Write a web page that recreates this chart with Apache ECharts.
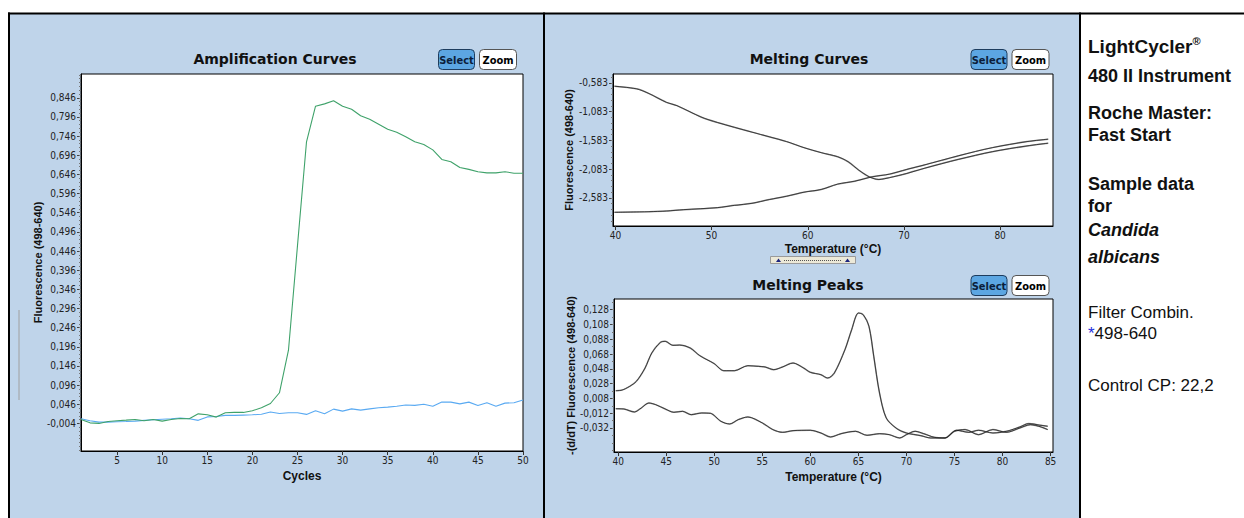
<!DOCTYPE html>
<html><head><meta charset="utf-8">
<script src="https://cdn.jsdelivr.net/npm/echarts@6/dist/echarts.min.js"></script>
<style>html,body{margin:0;padding:0;background:#fff;}#c{width:1244px;height:518px;}</style>
</head><body><div id="c"></div>
<script>
// ---------- data ----------
const cycles = [1,2,3,4,5,6,7,8,9,10,11,12,13,14,15,16,17,18,19,20,21,22,23,24,25,26,27,28,29,30,31,32,33,34,35,36,37,38,39,40,41,42,43,44,45,46,47,48,49,50];
const ampGreen = [0.0064,-0.0025,-0.004,0.001,0.003,0.0046,0.0064,0.003,0.0064,0.002,0.0064,0.009,0.008,0.021,0.0185,0.0125,0.0237,0.0247,0.0247,0.029,0.037,0.048,0.076,0.187,0.46,0.731,0.824,0.830,0.838,0.824,0.816,0.799,0.790,0.777,0.764,0.756,0.744,0.731,0.724,0.710,0.685,0.679,0.664,0.659,0.653,0.650,0.650,0.653,0.649,0.649];
const ampBlue = [0.008,0.003,-0.0006,-0.0006,0.0002,0.001,0.002,0.004,0.0055,0.007,0.008,0.010,0.008,0.004,0.013,0.014,0.017,0.017,0.0177,0.0185,0.020,0.026,0.022,0.0237,0.0237,0.0195,0.029,0.021,0.0333,0.028,0.034,0.0307,0.034,0.037,0.0386,0.041,0.044,0.043,0.046,0.041,0.0516,0.0516,0.047,0.0516,0.043,0.050,0.041,0.049,0.050,0.057];
const ampYTicks = [-0.004,0.046,0.096,0.146,0.196,0.246,0.296,0.346,0.396,0.446,0.496,0.546,0.596,0.646,0.696,0.746,0.796,0.846];
const ampXTicks = [5,10,15,20,25,30,35,40,45,50];

const meltTempsA = [39.9,42.2,43.5,45.3,46.4,48.9,50.6,54.2,57.8,59.6,61.4,63.1,64.2,65.3,66.4,67.4,68.5,70.3,72.1,75.7,79.2,82.8,85.0];
const meltCurveA = [-0.642,-0.688,-0.77,-0.922,-0.98,-1.177,-1.272,-1.44,-1.604,-1.709,-1.796,-1.866,-1.954,-2.099,-2.216,-2.262,-2.23,-2.157,-2.069,-1.912,-1.779,-1.679,-1.632];
const meltTempsB = [39.9,43.5,45.3,47.1,50.6,52.4,54.2,56,57.8,59.6,61.4,63.1,64.9,66.7,68.5,70.3,72.1,75.7,79.2,82.8,85];
const meltCurveB = [-2.833,-2.821,-2.81,-2.786,-2.751,-2.711,-2.676,-2.611,-2.553,-2.483,-2.436,-2.343,-2.291,-2.216,-2.169,-2.087,-2.011,-1.849,-1.709,-1.604,-1.562];
const meltYTicks = [-2.583,-2.083,-1.583,-1.083,-0.583];
const meltXTicks = [40,50,60,70,80];

const peakTempsA = [39.75,40.3,41.2,41.9,42.8,43.5,44.4,44.9,45.7,46.4,47.5,48.5,50,51,52.1,53.5,54.6,55.3,56.2,57.1,58.2,59.3,60,61.1,61.8,62.5,63.6,64.3,65,65.5,66.1,66.6,67.2,67.9,69,70,71.5,72.5,74,75,76.1,77.5,79,80.4,81.8,82.9,84,84.7];
const peakCurveA = [0.0185,0.0189,0.0243,0.0311,0.0491,0.0694,0.0838,0.0852,0.0798,0.0802,0.0762,0.0658,0.055,0.0455,0.0455,0.0523,0.0514,0.0505,0.0469,0.0505,0.0559,0.0491,0.0433,0.0401,0.0356,0.0424,0.0739,0.101,0.1235,0.1212,0.1055,0.0649,0.0153,-0.0185,-0.0329,-0.0388,-0.0424,-0.0455,-0.0455,-0.0365,-0.0342,-0.041,-0.0342,-0.0379,-0.032,-0.0275,-0.0306,-0.0342];
const peakTempsB = [39.75,40.6,41.7,42.4,43.2,43.9,44.9,45.8,46.7,47.6,48.7,49.6,50.7,51.6,52.5,53.5,55,56.1,57.1,58.2,60,61.1,62.1,63.2,64.7,65.9,67.2,68.2,69.3,70,70.9,71.8,72.9,74,75.2,76.5,77.5,79,80.4,81.8,82.7,84,84.7];
const peakCurveB = [-0.0059,-0.0063,-0.0104,-0.005,0.0018,-0.0004,-0.0063,-0.0108,-0.0095,-0.014,-0.0117,-0.0122,-0.023,-0.0266,-0.0207,-0.0171,-0.0252,-0.0342,-0.0379,-0.0356,-0.0351,-0.0388,-0.0442,-0.0397,-0.0365,-0.0419,-0.0397,-0.041,-0.0455,-0.041,-0.0365,-0.0397,-0.0446,-0.0455,-0.0351,-0.0379,-0.0351,-0.0388,-0.0365,-0.0306,-0.0261,-0.0284,-0.0297];
const peakYTicks = [-0.032,-0.012,0.008,0.028,0.048,0.068,0.088,0.108,0.128];
const peakXTicks = [40,45,50,55,60,65,70,75,80,85];

// ---------- helpers ----------
const pair = (xs, ys) => xs.map((x, i) => [x, ys[i]]);
function minorTicks(majors, step, min, max) {
  const out = [];
  const base = majors[0];
  for (let k = -200; k <= 200; k++) {
    const v = +(base + k * step).toFixed(5);
    if (v > min && v < max) out.push(v);
  }
  return out;
}
const FONT = "'DejaVu Sans Condensed','Liberation Sans Narrow',sans-serif";
const fmt = v => (+v).toFixed(3).replace('.', ',');
const labelStyle = { fontFamily: FONT, fontSize: 10, color: '#222' };
const nameStyle = { fontFamily: "'Liberation Sans',Arial,sans-serif", fontWeight: 'bold', color: '#111' };

const AMP = { min: -0.076, max: 0.908, xmin: 1, xmax: 50 };
const MELT = { min: -3.07, max: -0.43, xmin: 39.75, xmax: 85.5 };
const PEAK = { min: -0.0645, max: 0.1425, xmin: 39.57, xmax: 85.25 };

function xAxisDef(grid, r, ticks, name, gap) {
  return {
    type: 'value', gridIndex: grid, min: r.xmin, max: r.xmax,
    name: name, nameLocation: 'middle', nameGap: gap,
    nameTextStyle: Object.assign({ fontSize: 12 }, nameStyle),
    axisLine: { show: true, onZero: false, lineStyle: { color: '#000', width: 1 } },
    axisTick: { show: true, length: 4, lineStyle: { color: '#333' }, customValues: ticks },
    axisLabel: Object.assign({ margin: 4, customValues: ticks, formatter: v => String(v), showMinLabel: true, showMaxLabel: true }, labelStyle),
    splitLine: { show: false }
  };
}
function yAxisDef(grid, r, ticks, name, gap) {
  return {
    type: 'value', gridIndex: grid, min: r.min, max: r.max,
    name: name, nameLocation: 'middle', nameGap: gap, nameRotate: 90,
    nameTextStyle: Object.assign({ fontSize: 11 }, nameStyle),
    axisLine: { show: true, onZero: false, lineStyle: { color: '#000', width: 1 } },
    axisTick: { show: true, length: 4, lineStyle: { color: '#444' }, customValues: ticks },
    axisLabel: Object.assign({ margin: 5, customValues: ticks, formatter: fmt }, labelStyle),
    splitLine: { show: false }
  };
}
function yMinorDef(grid, r, ticks) {
  return {
    type: 'value', gridIndex: grid, min: r.min, max: r.max, position: 'left',
    axisLine: { show: false, onZero: false },
    axisTick: { show: true, length: 2, lineStyle: { color: '#777' }, customValues: ticks },
    axisLabel: { show: false },
    splitLine: { show: false }
  };
}

// ---------- decoration ----------
const PANEL = '#bfd4ea';
function button(x, y, w, h, label, fill, stroke, txt) {
  return {
    type: 'group', x: x, y: y, children: [
      { type: 'rect', shape: { x: 0, y: 0, width: w, height: h, r: 4 }, style: { fill: fill, stroke: stroke, lineWidth: 1 } },
      { type: 'text', x: w / 2, y: h / 2 + 0.5, style: { text: label, fill: txt, font: "bold 11px " + FONT, textAlign: 'center', textVerticalAlign: 'middle' } }
    ]
  };
}
function selZoom(x, y) {
  return [
    button(x, y, 36, 20, 'Select', '#5ca6e2', '#1d3c5e', '#0b1e3a'),
    button(x + 41, y, 37, 20, 'Zoom', '#ffffff', '#555555', '#000')
  ];
}
const titleFont = "bold 14px 'DejaVu Sans',sans-serif";
const rtBold = "bold 18px 'Liberation Sans',Arial,sans-serif";
const rtBoldIt = "italic bold 18px 'Liberation Sans',Arial,sans-serif";
const rtReg = "17px 'Liberation Sans',Arial,sans-serif";
const rtX = 1088;
function rt(y, text, font, extra) {
  return { type: 'text', x: rtX, y: y, style: Object.assign({ text: text, font: font, fill: '#111', textVerticalAlign: 'middle' }, extra || {}) };
}

const graphics = [
  { type: 'rect', z: -10, shape: { x: 9, y: 14, width: 534, height: 504 }, style: { fill: PANEL } },
  { type: 'rect', z: -10, shape: { x: 545, y: 14, width: 534, height: 504 }, style: { fill: PANEL } },
  { type: 'rect', z: -5, shape: { x: 8, y: 12.5, width: 1236, height: 2 }, style: { fill: '#000' } },
  { type: 'rect', z: -5, shape: { x: 8, y: 12.5, width: 2, height: 506 }, style: { fill: '#000' } },
  { type: 'rect', z: -5, shape: { x: 543, y: 12.5, width: 2, height: 506 }, style: { fill: '#000' } },
  { type: 'rect', z: -5, shape: { x: 1079, y: 12.5, width: 2, height: 506 }, style: { fill: '#000' } },
  { type: 'line', shape: { x1: 19, y1: 310, x2: 19, y2: 400 }, style: { stroke: '#a0a0a0', lineWidth: 1 } },
  { type: 'text', x: 275, y: 58.5, style: { text: 'Amplification Curves', font: titleFont, fill: '#111', textAlign: 'center', textVerticalAlign: 'middle' } },
  { type: 'text', x: 809, y: 58.5, style: { text: 'Melting Curves', font: titleFont, fill: '#111', textAlign: 'center', textVerticalAlign: 'middle' } },
  { type: 'text', x: 808, y: 285, style: { text: 'Melting Peaks', font: titleFont, fill: '#111', textAlign: 'center', textVerticalAlign: 'middle' } },
  ...selZoom(438.5, 49.5),
  ...selZoom(971, 49.5),
  ...selZoom(971, 275.5),
  // little scroller under the melting curves
  { type: 'rect', shape: { x: 770.5, y: 256.5, width: 85, height: 7 }, style: { fill: '#ece9d8', stroke: '#9a9a9a', lineWidth: 1 } },
  { type: 'polygon', shape: { points: [[776, 262], [778.5, 258.5], [781, 262]] }, style: { fill: '#1a237e' } },
  { type: 'polygon', shape: { points: [[845, 262], [847.5, 258.5], [850, 262]] }, style: { fill: '#1a237e' } },
  { type: 'line', shape: { x1: 784, y1: 260.5, x2: 842, y2: 260.5 }, style: { stroke: '#555', lineWidth: 1, lineDash: [1, 1] } },
  // right-hand notes
  { type: 'text', x: rtX, y: 46, style: { text: 'LightCycler{sup|®}', font: "bold 19px 'Liberation Sans',Arial,sans-serif", fill: '#111', textVerticalAlign: 'middle',
      rich: { sup: { font: "bold 11px 'Liberation Sans',Arial,sans-serif", fill: '#111', verticalAlign: 'top', padding: [0, 0, 10, 0] } } } },
  rt(76, '480 II Instrument', rtBold),
  rt(113, 'Roche Master:', rtBold),
  rt(135, 'Fast Start', rtBold),
  rt(184, 'Sample data', rtBold),
  rt(206, 'for', rtBold),
  rt(230, 'Candida', rtBoldIt),
  rt(257, 'albicans', rtBoldIt),
  rt(312, 'Filter Combin.', rtReg),
  { type: 'text', x: rtX, y: 333, style: { text: '{ast|*}498-640', font: rtReg, fill: '#111', textVerticalAlign: 'middle',
      rich: { ast: { font: rtReg, fill: '#1f2fe0' } } } },
  rt(385, 'Control CP: 22,2', rtReg)
];

// ---------- chart ----------
const chart = echarts.init(document.getElementById('c'), null, { renderer: 'svg', width: 1244, height: 518 });
const lineBase = { type: 'line', showSymbol: false, symbol: 'none', animation: false, silent: true };

chart.setOption({
  animation: false,
  backgroundColor: '#ffffff',
  grid: [
    { left: 81, top: 74, width: 442, height: 377, show: true, backgroundColor: '#fff', borderColor: '#000', borderWidth: 1 },
    { left: 613, top: 74, width: 440, height: 152, show: true, backgroundColor: '#fff', borderColor: '#000', borderWidth: 1 },
    { left: 614, top: 299, width: 439, height: 153, show: true, backgroundColor: '#fff', borderColor: '#000', borderWidth: 1 }
  ],
  xAxis: [
    xAxisDef(0, AMP, ampXTicks, 'Cycles', 19),
    xAxisDef(1, MELT, meltXTicks, 'Temperature (°C)', 17),
    xAxisDef(2, PEAK, peakXTicks, 'Temperature (°C)', 19)
  ],
  yAxis: [
    yAxisDef(0, AMP, ampYTicks, 'Fluorescence (498-640)', 38),
    yMinorDef(0, AMP, minorTicks(ampYTicks, 0.01, AMP.min, AMP.max)),
    yAxisDef(1, MELT, meltYTicks, 'Fluorescence (498-640)', 39),
    yMinorDef(1, MELT, minorTicks(meltYTicks, 0.1, MELT.min, MELT.max)),
    yAxisDef(2, PEAK, peakYTicks, '-(d/dT) Fluorescence (498-640)', 33),
    yMinorDef(2, PEAK, minorTicks(peakYTicks, 0.01, PEAK.min, PEAK.max))
  ],
  series: [
    Object.assign({}, lineBase, { name: 'Blue sample', xAxisIndex: 0, yAxisIndex: 0, data: pair(cycles, ampBlue), lineStyle: { color: '#5aaaf2', width: 1.1 } }),
    Object.assign({}, lineBase, { name: 'Green sample', xAxisIndex: 0, yAxisIndex: 0, data: pair(cycles, ampGreen), lineStyle: { color: '#3fa26a', width: 1.1 } }),
    Object.assign({}, lineBase, { name: 'Melt A shadow', xAxisIndex: 1, yAxisIndex: 2, smooth: 0.3, data: pair(meltTempsA, meltCurveA), lineStyle: { color: '#9a9a9a', width: 1.5 } }),
    Object.assign({}, lineBase, { name: 'Melt B shadow', xAxisIndex: 1, yAxisIndex: 2, smooth: 0.3, data: pair(meltTempsB, meltCurveB), lineStyle: { color: '#9a9a9a', width: 1.5 } }),
    Object.assign({}, lineBase, { name: 'Melt A', xAxisIndex: 1, yAxisIndex: 2, smooth: 0.3, data: pair(meltTempsA, meltCurveA), lineStyle: { color: '#111', width: 0.7 } }),
    Object.assign({}, lineBase, { name: 'Melt B', xAxisIndex: 1, yAxisIndex: 2, smooth: 0.3, data: pair(meltTempsB, meltCurveB), lineStyle: { color: '#111', width: 0.7 } }),
    Object.assign({}, lineBase, { name: 'Peak A shadow', xAxisIndex: 2, yAxisIndex: 4, smooth: 0.3, data: pair(peakTempsA, peakCurveA), lineStyle: { color: '#9a9a9a', width: 1.5 } }),
    Object.assign({}, lineBase, { name: 'Peak B shadow', xAxisIndex: 2, yAxisIndex: 4, smooth: 0.3, data: pair(peakTempsB, peakCurveB), lineStyle: { color: '#9a9a9a', width: 1.5 } }),
    Object.assign({}, lineBase, { name: 'Peak A', xAxisIndex: 2, yAxisIndex: 4, smooth: 0.3, data: pair(peakTempsA, peakCurveA), lineStyle: { color: '#111', width: 0.7 } }),
    Object.assign({}, lineBase, { name: 'Peak B', xAxisIndex: 2, yAxisIndex: 4, smooth: 0.3, data: pair(peakTempsB, peakCurveB), lineStyle: { color: '#111', width: 0.7 } })
  ],
  graphic: graphics
});
</script></body></html>
